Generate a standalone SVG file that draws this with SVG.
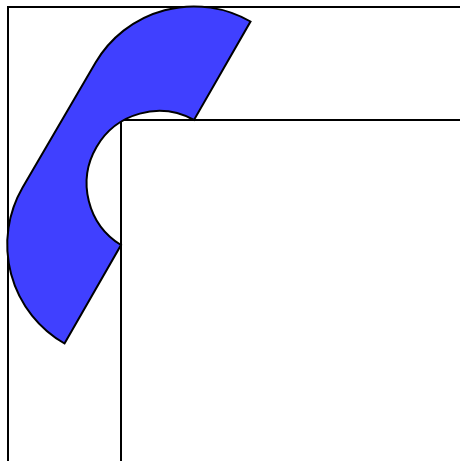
<svg xmlns="http://www.w3.org/2000/svg" width="460" height="461" viewBox="0 0 460 461">
  <style>
    .frame { fill: none; stroke: #000; stroke-width: 2; }
    .band { fill: #4040ff; stroke: #000; stroke-width: 2; stroke-linejoin: miter; }
  </style>
  <rect width="460" height="461" fill="#fff"/>
  <rect id="outer-frame" class="frame" x="8" y="7" width="470" height="470"/>
  <rect id="inner-frame" class="frame" x="121" y="120" width="360" height="360"/>
  <path id="band" class="band" d="M 64.5,343.5 L 121,245 A 72.4 72.4 0 0 1 194,120 L 250.5,21.5 A 114 114 0 0 0 95.6,62.5 L 22.6,187.5 A 114 114 0 0 0 64.5,343.5 Z"/>
</svg>
